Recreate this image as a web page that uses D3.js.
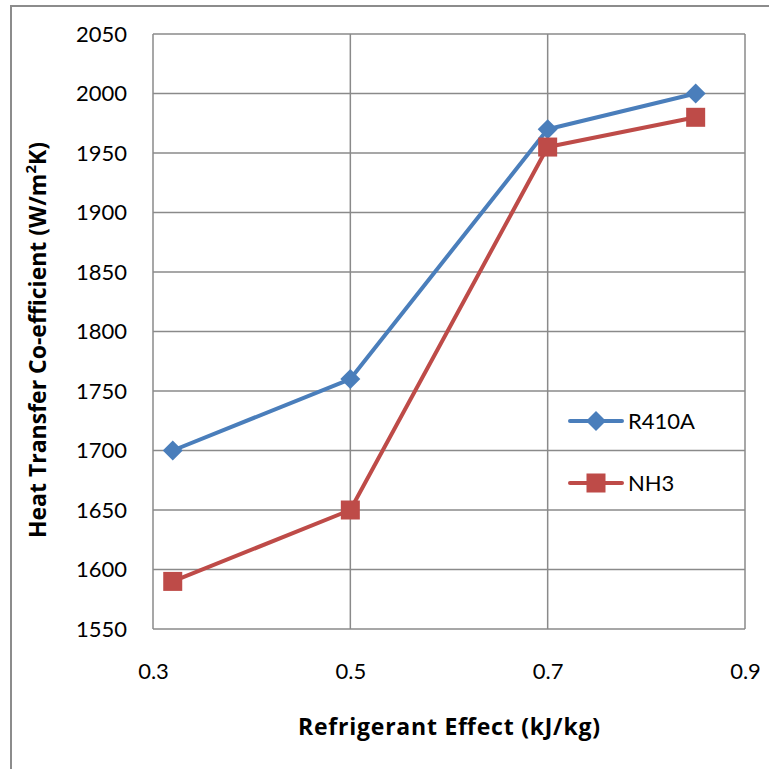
<!DOCTYPE html>
<html>
<head>
<meta charset="utf-8">
<script src="https://cdn.jsdelivr.net/npm/d3@7"></script>
<style>
  body { margin: 0; background: #fff; }
  svg { display: block; font-family: Lato, "Open Sans", sans-serif; }
</style>
</head>
<body>
<div id="chart"></div>
<script>
// Data
var xValues = [0.32, 0.5, 0.7, 0.85];
var r410a = [1700, 1760, 1970, 2000];
var nh3 = [1590, 1650, 1955, 1980];
var seriesNames = ["R410A", "NH3"];
var xTicks = [0.3, 0.5, 0.7, 0.9];
var yTicks = [1550, 1600, 1650, 1700, 1750, 1800, 1850, 1900, 1950, 2000, 2050];

var W = 769, H = 769;
var margin = { top: 34, right: 24, bottom: 140, left: 153 };
var width = W - margin.left - margin.right,
    height = H - margin.top - margin.bottom;

var svg = d3.select("#chart").append("svg")
    .attr("width", W)
    .attr("height", H);

// outer chart frame
svg.append("rect")
    .attr("x", 11).attr("y", 6)
    .attr("width", W + 20).attr("height", H + 20)
    .attr("fill", "none")
    .attr("stroke", "#8c8c8c")
    .attr("stroke-width", 2);

var g = svg.append("g")
    .attr("transform", "translate(" + margin.left + "," + margin.top + ")");

var x = d3.scaleLinear().domain([0.3, 0.9]).range([0, width]);
var y = d3.scaleLinear().domain([1550, 2050]).range([height, 0]);

var gridColor = "#8a8a8a";

// horizontal gridlines
g.append("g")
  .selectAll("line")
  .data(yTicks)
  .enter().append("line")
    .attr("x1", 0).attr("x2", width)
    .attr("y1", d => y(d)).attr("y2", d => y(d))
    .attr("stroke", gridColor).attr("stroke-width", 1.5);

// vertical gridlines
g.append("g")
  .selectAll("line")
  .data(xTicks)
  .enter().append("line")
    .attr("y1", 0).attr("y2", height)
    .attr("x1", d => x(d)).attr("x2", d => x(d))
    .attr("stroke", gridColor).attr("stroke-width", 1.5);

// axes (labels only)
var yAxis = g.append("g")
    .call(d3.axisLeft(y).tickValues(yTicks).tickSize(0).tickPadding(26).tickFormat(d3.format("d")));
yAxis.select(".domain").remove();
yAxis.selectAll("text").style("font-size", "22px").style("font-family", "Lato, sans-serif").attr("fill", "#000");

var xAxis = g.append("g")
    .attr("transform", "translate(0," + height + ")")
    .call(d3.axisBottom(x).tickValues(xTicks).tickSize(0).tickPadding(34).tickFormat(d3.format(".1f")));
xAxis.select(".domain").remove();
xAxis.selectAll("text").style("font-size", "22px").style("font-family", "Lato, sans-serif").attr("fill", "#000");

// axis titles
svg.append("text")
    .attr("x", 449).attr("y", 735)
    .attr("text-anchor", "middle")
    .style("font-family", "'Open Sans', sans-serif")
    .style("font-size", "23px").style("font-weight", "bold")
    .attr("textLength", 302)
    .text("Refrigerant Effect (kJ/kg)");

var yt = svg.append("text")
    .attr("transform", "translate(46,340) rotate(-90)")
    .attr("text-anchor", "middle")
    .style("font-family", "'Open Sans', sans-serif")
    .style("font-size", "23px").style("font-weight", "bold");
yt.append("tspan").text("Heat Transfer Co-efficient (W/m");
yt.append("tspan").attr("baseline-shift", "super").style("font-size", "15px").text("2");
yt.append("tspan").text("K)");

var line = d3.line().x(d => x(d[0])).y(d => y(d[1]));

var series = [
  { name: seriesNames[0], values: r410a, color: "#4a7ebb", marker: "diamond" },
  { name: seriesNames[1], values: nh3, color: "#be4b48", marker: "square" }
];

function drawMarker(sel, type, color) {
  if (type === "diamond") {
    sel.append("path")
      .attr("d", "M0,-10L10,0L0,10L-10,0Z")
      .attr("fill", color);
  } else {
    sel.append("rect")
      .attr("x", -9.5).attr("y", -9.5)
      .attr("width", 19).attr("height", 19)
      .attr("fill", color);
  }
}

series.forEach(function(s) {
  var pts = xValues.map((xv, i) => [xv, s.values[i]]);
  g.append("path")
    .datum(pts)
    .attr("d", line)
    .attr("fill", "none")
    .attr("stroke", s.color)
    .attr("stroke-width", 4)
    .attr("stroke-linejoin", "round")
    .attr("stroke-linecap", "round");
  pts.forEach(function(p) {
    var m = g.append("g").attr("transform", "translate(" + x(p[0]) + "," + y(p[1]) + ")");
    drawMarker(m, s.marker, s.color);
  });
});

// legend
var legend = svg.append("g");
series.forEach(function(s, i) {
  var ly = 421 + i * 62;
  var lg = legend.append("g").attr("transform", "translate(0," + ly + ")");
  lg.append("line")
    .attr("x1", 570).attr("x2", 622)
    .attr("stroke", s.color).attr("stroke-width", 4)
    .attr("stroke-linecap", "round");
  var m = lg.append("g").attr("transform", "translate(596,0)");
  drawMarker(m, s.marker, s.color);
  lg.append("text")
    .attr("x", 628).attr("y", 8)
    .style("font-size", "22px")
    .text(s.name);
});
</script>
</body>
</html>
